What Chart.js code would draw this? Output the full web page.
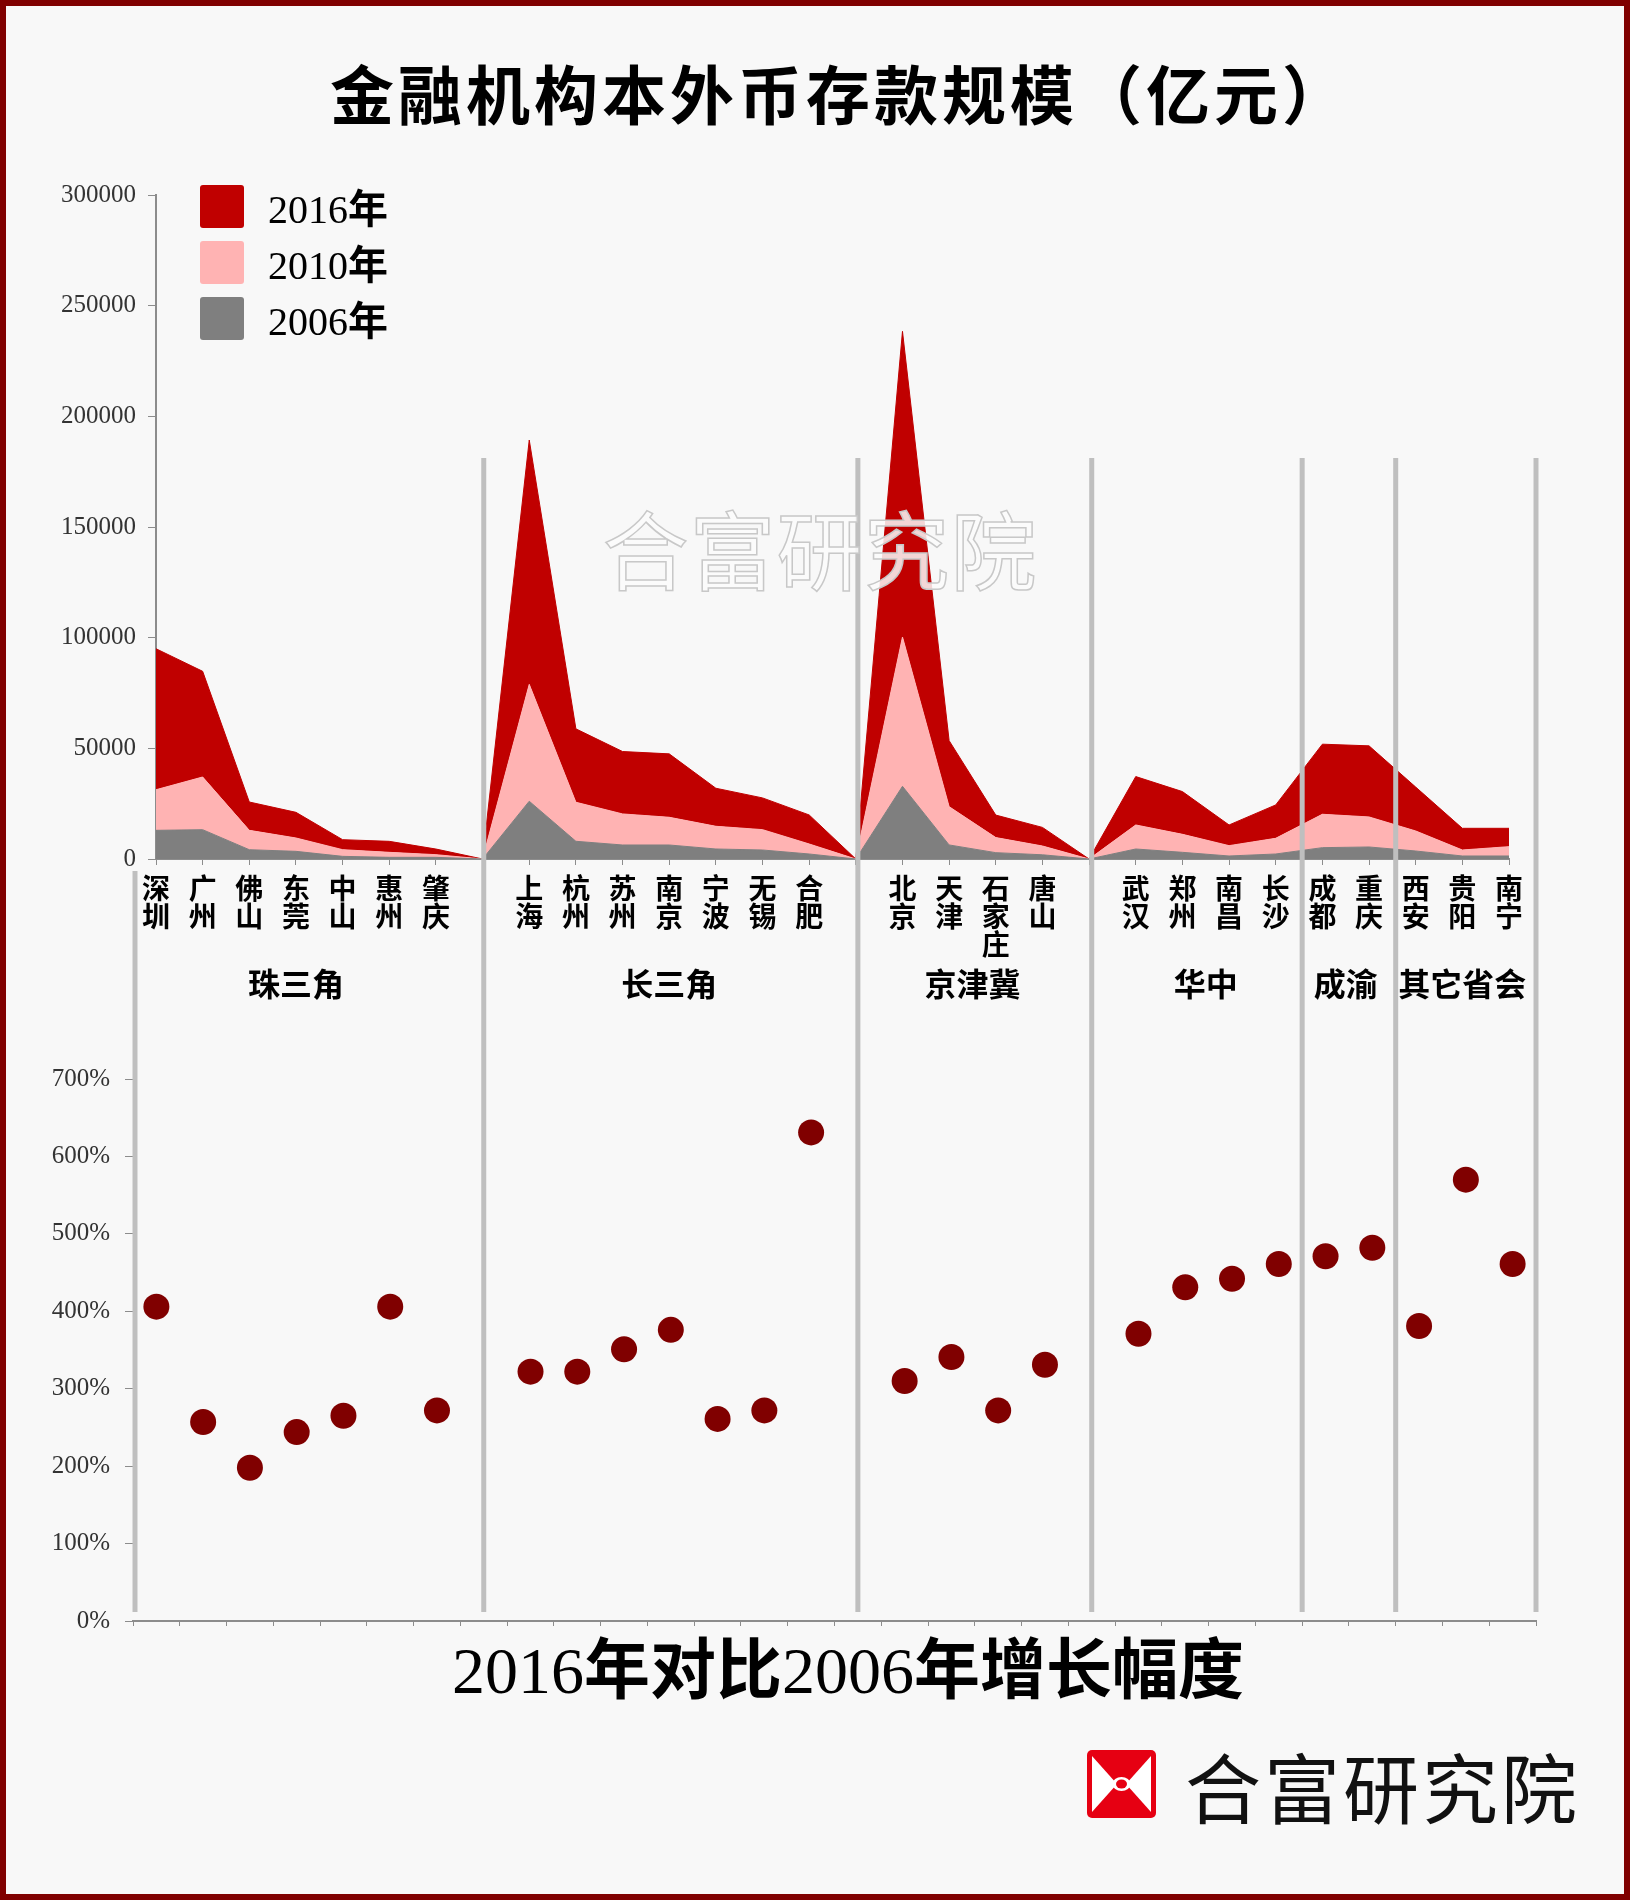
<!DOCTYPE html>
<html>
<head>
<meta charset="utf-8">
<script src="https://cdn.jsdelivr.net/npm/chart.js@4.4.1/dist/chart.umd.min.js"></script>
<style>
  body { margin: 0; }
  #wrap { position: relative; width: 1630px; height: 1900px; background: #f8f8f8; overflow: hidden; }
  #wrap canvas { position: absolute; left: 0; top: 0; }
  .abs { position: absolute; white-space: nowrap; }
  .num { font-family: "Liberation Serif", serif; font-weight: normal; }
  .cjk { font-family: "Noto Sans CJK SC", sans-serif; font-weight: bold; }
  #frame { position: absolute; left: 0; top: 0; width: 1630px; height: 1900px; box-sizing: border-box; border: 6px solid #800000; pointer-events: none; }
  .legItem { position: absolute; left: 200px; width: 260px; height: 44px; white-space: nowrap; }
  .legBox { position: absolute; left: 0; top: 0; width: 44px; height: 43px; border-radius: 3px; }
  .legText { position: absolute; left: 68px; top: -4px; font-size: 40px; line-height: 50px; color: #000; white-space: nowrap; }
</style>
</head>
<body>
<div id="wrap">
  <canvas id="areaChart" width="1630" height="1040"></canvas>
  <canvas id="growthChart" width="1630" height="1900"></canvas>

  <div class="abs cjk" style="left:840px; top:57px; transform:translateX(-50%); font-size:64px; line-height:68px; letter-spacing:4px; color:#000;">金融机构本外币存款规模（亿元）</div>

  <div id="legend"></div>

  <div class="abs" style="left:820px; top:546px; transform:translate(-50%,-50%); font-family:'Noto Sans CJK SC',sans-serif; font-size:86px; letter-spacing:1px; color:rgba(252,252,252,0.85); -webkit-text-stroke:1.5px #c8c8c8;">合富研究院</div>

  <div class="abs" style="left:848px; top:1626px; transform:translateX(-50%); font-size:66px; line-height:76px; color:#000;"><span class="num">2016</span><span class="cjk">年对比</span><span class="num">2006</span><span class="cjk">年增长幅度</span></div>

  <svg class="abs" style="left:1086px; top:1749px;" width="71" height="70" viewBox="0 0 71 70">
    <rect x="1" y="1" width="69" height="68" rx="5" fill="#e60012"/>
    <polygon points="6,7 31,35 6,63" fill="#ffffff"/>
    <polygon points="65,7 40,35 65,63" fill="#ffffff"/>
    <ellipse cx="35.5" cy="35" rx="9" ry="7" fill="#ffffff"/>
    <ellipse cx="35.5" cy="35" rx="5.5" ry="4.5" fill="#e60012"/>
  </svg>
  <div class="abs" style="left:1185px; top:1740px; font-family:'Noto Sans CJK SC',sans-serif; font-size:76px; line-height:90px; letter-spacing:3px; color:#111;">合富研究院</div>

  <div id="frame"></div>
</div>

<script>
// city order on the x axis, '' marks the empty slot between regions
const cities = ['深圳', '广州', '佛山', '东莞', '中山', '惠州', '肇庆', '',
  '上海', '杭州', '苏州', '南京', '宁波', '无锡', '合肥', '',
  '北京', '天津', '石家庄', '唐山', '',
  '武汉', '郑州', '南昌', '长沙', '成都', '重庆', '西安', '贵阳', '南宁'];

// deposits (亿元), stacked in the area chart
const dep2006 = [12950, 13250, 4200, 3460, 1200, 750, 750, 0,
  26100, 8000, 6330, 6330, 4520, 4070, 2260, 0,
  32850, 6350, 2860, 1900, 0,
  4520, 3020, 1360, 2260, 5130, 5430, 3620, 1360, 1360];
const dep2010 = [18350, 23800, 8750, 6030, 3020, 2260, 1210, 0,
  52800, 17640, 14030, 12520, 10260, 9200, 4530, 0,
  67450, 17300, 6820, 3970, 0,
  10860, 8140, 4670, 7090, 15080, 13570, 9050, 2710, 4220];
const dep2016 = [63700, 47750, 12800, 11590, 4510, 4970, 2540, 0,
  110400, 33160, 28200, 28650, 17190, 14330, 13110, 0,
  138100, 29830, 10160, 8410, 0,
  21870, 19300, 9350, 15080, 31670, 32120, 19830, 9800, 8290];

// 2016 vs 2006 growth (%)
const growth = [406, 257, 198, 244, 265, 406, 272, null,
  322, 322, 351, 376, 261, 272, 631, null,
  310, 341, 272, 331, null,
  371, 431, 442, 461, 471, 482, 381, 570, 461];

const depTicks = { min: 0, max: 300000, step: 50000 };
const growthTicks = { min: 0, max: 700, step: 100 };

const regions = [
  { name: '珠三角', from: 0, to: 6 },
  { name: '长三角', from: 8, to: 14 },
  { name: '京津冀', from: 16, to: 19 },
  { name: '华中', from: 21, to: 24 },
  { name: '成渝', from: 25, to: 26 },
  { name: '其它省会', from: 27, to: 29 }
];

const series = [
  { label: '2006年', data: dep2006, color: '#7f7f7f' },
  { label: '2010年', data: dep2010, color: '#ffb3b3' },
  { label: '2016年', data: dep2016, color: '#c00000' }
];

const axisGrey = '#8c8c8c';
const tickFont = { family: 'Liberation Serif', size: 25 };

// legend, newest year on top
const legend = document.getElementById('legend');
series.slice().reverse().forEach((s, i) => {
  const item = document.createElement('div');
  item.className = 'legItem';
  item.style.top = (185 + i * 56) + 'px';
  item.innerHTML = '<div class="legBox" style="background:' + s.color + '"></div>' +
    '<div class="legText">' + s.label.replace(/(\d+)(.*)/, '<span class="num">$1</span><span class="cjk">$2</span>') + '</div>';
  legend.appendChild(item);
});

const regionLabels = {
  id: 'regionLabels',
  afterDraw(chart) {
    const ctx = chart.ctx;
    const x = chart.scales.x;
    ctx.save();
    ctx.fillStyle = '#000';
    ctx.font = 'bold 32px "Noto Sans CJK SC"';
    ctx.textAlign = 'center';
    ctx.textBaseline = 'middle';
    regions.forEach(r => {
      ctx.fillText(r.name, x.getPixelForValue((r.from + r.to) / 2), 984);
    });
    ctx.restore();
  }
};

const dividers = {
  id: 'dividers',
  beforeDatasetsDraw(chart) {
    const ctx = chart.ctx;
    const x = chart.scales.x;
    const bottom = chart.chartArea.bottom - 9;
    const lines = [{ v: regions[0].from - 0.5, top: 871 }];
    for (let i = 0; i < regions.length - 1; i++) {
      lines.push({ v: (regions[i].to + regions[i + 1].from) / 2, top: 458 });
    }
    lines.push({ v: regions[regions.length - 1].to + 0.5, top: 458 });
    ctx.save();
    ctx.strokeStyle = '#bfbfbf';
    ctx.lineWidth = 5;
    lines.forEach(l => {
      const px = Math.min(Math.max(x.getPixelForValue(l.v), x.left + 2), x.right + 2);
      ctx.beginPath();
      ctx.moveTo(px, l.top);
      ctx.lineTo(px, bottom);
      ctx.stroke();
    });
    ctx.restore();
  }
};

new Chart(document.getElementById('areaChart'), {
  type: 'line',
  data: {
    labels: cities.map(c => c ? c.split('') : ''),
    datasets: series.map((s, i) => ({
      label: s.label,
      data: s.data,
      backgroundColor: s.color,
      borderColor: s.color,
      borderWidth: 1,
      pointRadius: 0,
      tension: 0,
      fill: i === 0 ? 'origin' : '-1'
    }))
  },
  options: {
    responsive: false,
    animation: false,
    events: [],
    layout: { padding: { top: 195, right: 121, left: 0, bottom: 0 } },
    plugins: { legend: { display: false }, tooltip: { enabled: false } },
    scales: {
      x: {
        offset: false,
        grid: { drawOnChartArea: false, tickLength: 6, color: axisGrey },
        border: { color: axisGrey, width: 2 },
        ticks: {
          autoSkip: false, maxRotation: 0, minRotation: 0, padding: 9, color: '#000',
          font: { family: 'Noto Sans CJK SC', weight: 'bold', size: 28, lineHeight: 1 }
        },
        afterFit: s => { s.height = 181; }
      },
      y: {
        stacked: true,
        min: depTicks.min, max: depTicks.max,
        ticks: { stepSize: depTicks.step, padding: 12, color: '#333', font: tickFont, callback: v => String(v) },
        grid: { drawOnChartArea: false, tickLength: 8, color: axisGrey },
        border: { color: axisGrey, width: 2 },
        afterFit: s => { s.width = 156; }
      }
    }
  },
  plugins: [regionLabels]
});

new Chart(document.getElementById('growthChart'), {
  type: 'line',
  data: {
    labels: cities,
    datasets: [{
      label: '增长幅度',
      data: growth,
      showLine: false,
      pointRadius: 13,
      pointBackgroundColor: '#800000',
      pointBorderColor: '#800000',
      pointBorderWidth: 0
    }]
  },
  options: {
    responsive: false,
    animation: false,
    events: [],
    layout: { padding: { top: 1079, right: 94, left: 0, bottom: 0 } },
    plugins: { legend: { display: false }, tooltip: { enabled: false } },
    scales: {
      x: {
        offset: true,
        grid: { offset: true, drawOnChartArea: false, tickLength: 5, color: axisGrey },
        border: { color: axisGrey, width: 2 },
        ticks: { display: false },
        afterFit: s => { s.height = 1900 - 1621; }
      },
      y: {
        min: growthTicks.min, max: growthTicks.max,
        ticks: { stepSize: growthTicks.step, padding: 15, color: '#333', font: tickFont, callback: v => v + '%' },
        grid: { drawOnChartArea: false, tickLength: 8, color: axisGrey },
        border: { display: false },
        afterFit: s => { s.width = 133; }
      }
    }
  },
  plugins: [dividers]
});
</script>
</body>
</html>
